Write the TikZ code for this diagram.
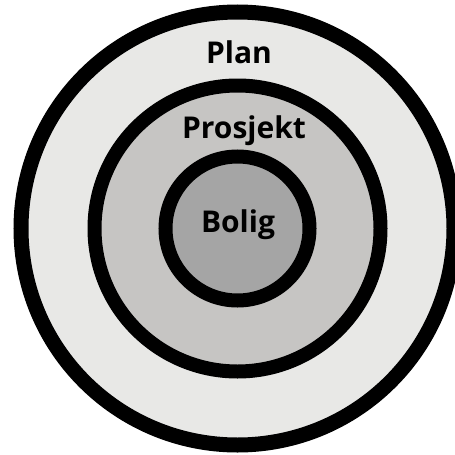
\documentclass[tikz,border=0pt]{standalone}
\usepackage{fontspec}
\setmainfont{Open Sans}
\definecolor{ringA}{HTML}{E8E8E6}
\definecolor{ringB}{HTML}{C6C5C3}
\definecolor{ringC}{HTML}{A5A5A5}
\begin{document}
\begin{tikzpicture}[x=1pt,y=-1pt,
  ring/.style={draw=black,circle,inner sep=0pt},
  lbl/.style={font=\fontsize{30}{30}\selectfont\bfseries,anchor=base,inner sep=0pt}]
\useasboundingbox (0,0) rectangle (455,455);
\clip (0,0) rectangle (455,455);
\coordinate (c) at (237.5,228.5);
\fill[white] (0,0) rectangle (455,455);
\node[ring,fill=ringA,line width=15pt,minimum size=433pt] (plan) at (c) {};
\node[ring,fill=ringB,line width=14pt,minimum size=286pt] (prosjekt) at (c) {};
\node[ring,fill=ringC,line width=14pt,minimum size=144pt] (bolig) at (c) {};
\node[lbl] (tplan) at (239,63.3) {Plan};
\node[lbl] (tprosjekt) at (244,138.3) {Prosjekt};
\node[lbl] (tbolig) at (238,232.7) {Bolig};
\end{tikzpicture}
\end{document}
